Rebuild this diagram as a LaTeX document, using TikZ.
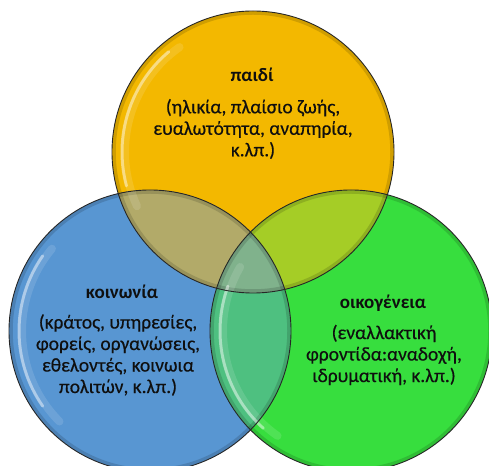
\documentclass[tikz,border=0pt]{standalone}
\usepackage{fontspec}
\setmainfont{Carlito}
\newfontfamily\bodyfont[FakeBold=0.4]{Carlito}
\definecolor{cYel}{RGB}{243,184,0}
\definecolor{cBlu}{RGB}{88,150,210}
\definecolor{cGrn}{RGB}{55,222,62}
\definecolor{cYB}{RGB}{178,170,105}
\definecolor{cYG}{RGB}{165,205,38}
\definecolor{cBG}{RGB}{78,192,128}
\definecolor{cYBG}{RGB}{128,178,140}
\definecolor{cInk}{RGB}{15,15,15}
\begin{document}
\begin{tikzpicture}[x=1pt,y=1pt,
  disc/.style={circle, minimum size=282pt, inner sep=0pt},
  rim/.style={draw=black!85, line width=0.9pt},
  shadowring/.style={draw=black, draw opacity=0.14, line width=3.5pt},
  gloss/.style={draw=white, line width=3pt, draw opacity=0.45, line cap=round},
  softgloss/.style={draw=white, line width=8pt, draw opacity=0.12, line cap=round},
  heading/.style={font=\bfseries\fontsize{19}{22}\selectfont, text=cInk},
  body/.style={font=\bodyfont\fontsize{19.5}{21.5}\selectfont, align=center, text=cInk}]
\useasboundingbox (0,0) rectangle (489,465);
\clip (0,0) rectangle (489,465);

% the three discs
\node[disc, fill=cYel] (child)   at (253,313) {};
\node[disc, fill=cBlu] (society) at (150,134) {};
\node[disc, fill=cGrn] (family)  at (351,134) {};

% overlap lenses
\begin{scope}
  \clip (child.center) circle (141);
  \fill[cYB] (society.center) circle (141);
\end{scope}
\begin{scope}
  \clip (child.center) circle (141);
  \fill[cYG] (family.center) circle (141);
\end{scope}
\begin{scope}
  \clip (society.center) circle (141);
  \fill[cBG] (family.center) circle (141);
\end{scope}
\begin{scope}
  \clip (child.center) circle (141);
  \clip (society.center) circle (141);
  \fill[cYBG] (family.center) circle (141);
\end{scope}

% glassy shading near the rims
\foreach \c in {child, society, family} {
  \draw[shadowring] (\c.center) circle (139);
}
\draw[softgloss] ([shift={(125:128)}]child.center) arc (125:205:128);
\draw[gloss]     ([shift={(130:131)}]child.center) arc (130:195:131);
\draw[softgloss] ([shift={(140:128)}]society.center) arc (140:225:128);
\draw[gloss]     ([shift={(145:131)}]society.center) arc (145:215:131);
\draw[softgloss] ([shift={(150:128)}]family.center) arc (150:235:128);
\draw[gloss]     ([shift={(160:131)}]family.center) arc (160:228:131);

% outlines
\draw[rim] (child.center) circle (141);
\draw[rim] (society.center) circle (141);
\draw[rim] (family.center) circle (141);

% labels
\node[heading] (childT) at (252,390) {παιδί};
\node[body] (childB) at (253,336) {(ηλικία, πλαίσιο ζωής,\\ευαλωτότητα, αναπηρία,\\κ.λπ.)};

\node[heading] (socT) at (122,173) {κοινωνία};
\node[body] (socB) at (118,110) {(κράτος, υπηρεσίες,\\φορείς, οργανώσεις,\\εθελοντές, κοινωια\\πολιτών, κ.λπ.)};

\node[heading] (famT) at (383,162) {οικογένεια};
\node[body] (famB) at (384,110) {(εναλλακτική\\φροντίδα:αναδοχή,\\ιδρυματική, κ.λπ.)};
\end{tikzpicture}
\end{document}
